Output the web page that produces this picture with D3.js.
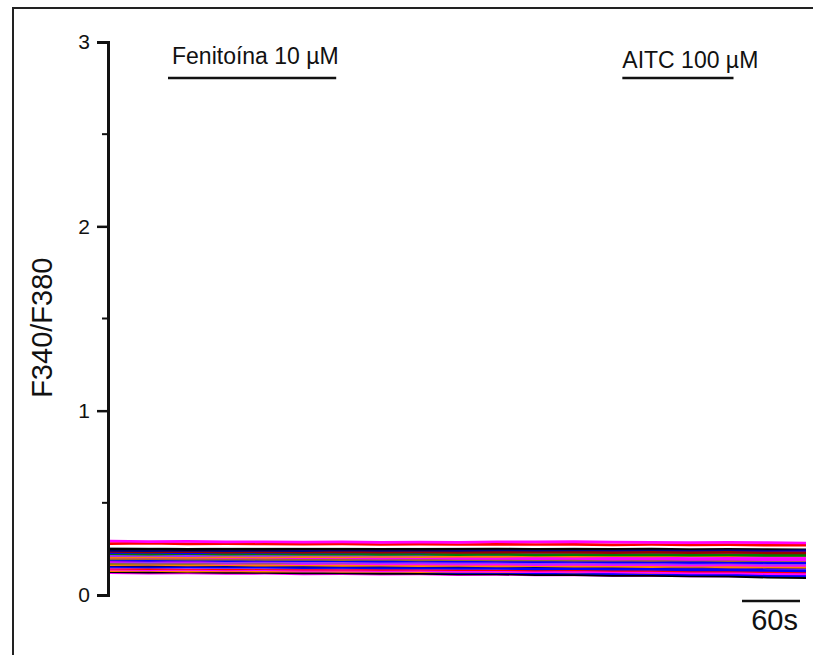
<!DOCTYPE html>
<html>
<head>
<meta charset="utf-8">
<script src="https://cdn.jsdelivr.net/npm/d3@7"></script>
<style>
  body { margin: 0; background: white; }
  text { font-family: "Liberation Sans", Arial, sans-serif; fill: #111; }
</style>
</head>
<body>
<div id="chart_div"></div>
<script>

// time points (s) of every trace
let times = [0, 40, 80, 120, 160, 200, 240, 280, 320, 360, 400, 440, 480, 520, 560, 600, 640, 680, 720]

// F340/F380 ratio of each cell
let tr01 = [0.293,0.290,0.291,0.288,0.289,0.287,0.288,0.285,0.287,0.286,0.289,0.288,0.290,0.287,0.286,0.284,0.285,0.284,0.282]
let tr02 = [0.279,0.281,0.277,0.278,0.277,0.276,0.277,0.274,0.276,0.274,0.275,0.274,0.275,0.272,0.274,0.272,0.273,0.270,0.271]
let tr03 = [0.266,0.264,0.266,0.264,0.265,0.264,0.264,0.262,0.264,0.263,0.264,0.262,0.263,0.262,0.263,0.261,0.262,0.261,0.260]
let tr04 = [0.250,0.252,0.248,0.250,0.249,0.251,0.250,0.252,0.249,0.251,0.253,0.251,0.252,0.251,0.254,0.252,0.254,0.252,0.255]
let tr05 = [0.242,0.240,0.243,0.241,0.242,0.241,0.244,0.242,0.243,0.242,0.245,0.243,0.245,0.244,0.246,0.244,0.246,0.245,0.247]
let tr06 = [0.236,0.234,0.236,0.233,0.235,0.232,0.235,0.233,0.234,0.231,0.233,0.232,0.233,0.230,0.232,0.230,0.231,0.229,0.229]
let tr07 = [0.230,0.232,0.229,0.232,0.231,0.233,0.232,0.235,0.233,0.236,0.234,0.237,0.236,0.238,0.237,0.239,0.238,0.241,0.241]
let tr08 = [0.224,0.222,0.224,0.222,0.223,0.221,0.223,0.220,0.221,0.219,0.221,0.218,0.219,0.217,0.219,0.216,0.217,0.215,0.215]
let tr09 = [0.213,0.215,0.213,0.216,0.215,0.217,0.216,0.218,0.217,0.220,0.219,0.221,0.220,0.222,0.221,0.224,0.222,0.225,0.225]
let tr10 = [0.205,0.207,0.205,0.207,0.206,0.209,0.207,0.211,0.208,0.211,0.210,0.213,0.211,0.213,0.212,0.215,0.213,0.216,0.215]
let tr11 = [0.207,0.205,0.206,0.203,0.204,0.202,0.203,0.200,0.202,0.198,0.199,0.197,0.198,0.195,0.197,0.193,0.194,0.192,0.191]
let tr12 = [0.196,0.197,0.194,0.196,0.193,0.195,0.192,0.194,0.191,0.193,0.190,0.192,0.189,0.191,0.188,0.190,0.187,0.188,0.186]
let tr13 = [0.190,0.188,0.190,0.187,0.188,0.186,0.187,0.184,0.185,0.183,0.183,0.181,0.182,0.179,0.181,0.177,0.178,0.176,0.175]
let tr14 = [0.184,0.186,0.184,0.187,0.186,0.189,0.187,0.190,0.188,0.191,0.190,0.193,0.191,0.194,0.193,0.196,0.195,0.198,0.198]
let tr15 = [0.180,0.178,0.180,0.177,0.179,0.176,0.177,0.175,0.176,0.174,0.175,0.172,0.174,0.171,0.172,0.170,0.171,0.168,0.169]
let tr16 = [0.171,0.173,0.172,0.175,0.174,0.177,0.176,0.179,0.178,0.181,0.180,0.183,0.183,0.185,0.185,0.188,0.188,0.192,0.193]
let tr17 = [0.175,0.173,0.174,0.172,0.173,0.170,0.171,0.169,0.169,0.167,0.168,0.165,0.166,0.164,0.164,0.162,0.163,0.160,0.160]
let tr18 = [0.165,0.166,0.163,0.164,0.162,0.163,0.161,0.162,0.159,0.160,0.158,0.159,0.156,0.157,0.154,0.156,0.152,0.153,0.151]
let tr19 = [0.160,0.158,0.160,0.158,0.159,0.157,0.158,0.156,0.157,0.155,0.156,0.154,0.155,0.153,0.154,0.151,0.153,0.150,0.150]
let tr20 = [0.155,0.153,0.154,0.152,0.152,0.149,0.150,0.147,0.149,0.145,0.146,0.142,0.143,0.140,0.140,0.136,0.136,0.133,0.131]
let tr21 = [0.150,0.151,0.148,0.150,0.147,0.149,0.146,0.148,0.145,0.147,0.144,0.146,0.143,0.144,0.142,0.143,0.140,0.142,0.140]
let tr22 = [0.145,0.143,0.145,0.142,0.143,0.140,0.142,0.139,0.140,0.137,0.138,0.135,0.137,0.133,0.134,0.130,0.131,0.126,0.125]
let tr23 = [0.140,0.138,0.139,0.136,0.138,0.134,0.135,0.132,0.133,0.130,0.131,0.127,0.128,0.125,0.124,0.120,0.121,0.116,0.115]
let tr24 = [0.132,0.133,0.130,0.132,0.129,0.131,0.128,0.130,0.127,0.129,0.126,0.128,0.125,0.126,0.123,0.124,0.121,0.122,0.120]
let tr25 = [0.136,0.134,0.135,0.132,0.133,0.130,0.130,0.127,0.127,0.123,0.124,0.120,0.120,0.116,0.116,0.112,0.112,0.107,0.105]
let tr26 = [0.126,0.124,0.125,0.122,0.123,0.120,0.120,0.117,0.117,0.114,0.115,0.111,0.111,0.107,0.107,0.103,0.102,0.097,0.094]
let tr27 = [0.121,0.119,0.120,0.117,0.118,0.115,0.116,0.113,0.114,0.111,0.112,0.109,0.110,0.106,0.107,0.104,0.104,0.100,0.099]
let tr28 = [0.198,0.200,0.198,0.201,0.200,0.202,0.201,0.204,0.203,0.205,0.204,0.206,0.205,0.208,0.206,0.209,0.208,0.210,0.210]

let traces = [tr28, tr27, tr26, tr25, tr24, tr23, tr22, tr21, tr20, tr19, tr18, tr17, tr16, tr15,
              tr14, tr13, tr12, tr11, tr10, tr09, tr08, tr07, tr06, tr05, tr04, tr03, tr02, tr01]
let trace_colors = ["#ff00ff", "#ff00ff", "#000000", "#0000ff", "#ff8000", "#ff00ff", "#ff0000", "#9933ff", "#0000ff", "#000080",
                    "#ff8000", "#ff00ff", "#808000", "#9933ff", "#ff00ff", "#0000ff", "#996633", "#ff00ff", "#ff8000", "#9933ff",
                    "#008000", "#0000ff", "#990000", "#000080", "#000000", "#ffffff", "#ff0000", "#ff00ff"]

// drug applications
let stim_labels = ["Fenitoína 10 µM", "AITC 100 µM"]
let stim_start = [60, 530]
let stim_end = [234, 645]

let y_ticks = [0, 1, 2, 3]
let y_minor = [0.5, 1.5, 2.5]
let y_label = "F340/F380"
let scale_bar = 60

let width = 813
let height = 655

window.onload = function(){
  draw()
}

function draw(){

  let svg = d3.select("#chart_div")
    .append("svg")
    .attr("width", width)
    .attr("height", height)

  // open frame (top and left)
  svg.append("path")
    .attr("d", "M13,655 L13,8 L813,8")
    .attr("fill", "none")
    .attr("stroke", "#222")
    .attr("stroke-width", 2)

  let x = d3.scaleLinear()
    .domain([0, 720])
    .range([110, 806])

  let y = d3.scaleLinear()
    .domain([0, 3])
    .range([595, 42])

  // Y axis
  let yAxis = svg.append("g")
    .attr("transform", "translate(108,0)")
    .call(d3.axisLeft(y).tickValues(y_ticks).tickSize(11).tickPadding(7).tickFormat(d3.format("d")))
  yAxis.select(".domain").attr("stroke", "#111").attr("stroke-width", 3)
  yAxis.selectAll(".tick line").attr("stroke", "#111").attr("stroke-width", 2.5)
  yAxis.selectAll(".tick text")
    .attr("font-family", "Liberation Sans, Arial, sans-serif")
    .attr("font-size", 21)
    .attr("fill", "#111")

  svg.append("g")
    .selectAll("line")
    .data(y_minor)
    .join("line")
      .attr("x1", 102)
      .attr("x2", 108)
      .attr("y1", d => y(d))
      .attr("y2", d => y(d))
      .attr("stroke", "#111")
      .attr("stroke-width", 2)

  svg.append("text")
    .attr("transform", "translate(52," + y(1.45) + ") rotate(-90)")
    .attr("text-anchor", "middle")
    .attr("font-size", 29)
    .text(y_label)

  // traces
  let line = d3.line()
    .x((d, i) => x(times[i]))
    .y(d => y(d))

  svg.append("g")
    .selectAll("path")
    .data(traces)
    .join("path")
      .attr("fill", "none")
      .attr("stroke", (d, i) => trace_colors[i])
      .attr("stroke-width", 2.7)
      .attr("d", line)

  // drug bars
  let stim = svg.append("g")
  stim.selectAll("line")
    .data(stim_labels)
    .join("line")
      .attr("x1", (d, i) => x(stim_start[i]))
      .attr("x2", (d, i) => x(stim_end[i]))
      .attr("y1", 78)
      .attr("y2", 78)
      .attr("stroke", "#111")
      .attr("stroke-width", 2.5)
  stim.selectAll("text")
    .data(stim_labels)
    .join("text")
      .attr("x", (d, i) => x(stim_start[i]) + (i == 0 ? 4 : 0))
      .attr("y", (d, i) => i == 0 ? 64 : 68)
      .attr("font-size", 23)
      .text(d => d)

  // time scale bar
  svg.append("line")
    .attr("x1", x(720) - (x(scale_bar) - x(0)) - 6)
    .attr("x2", x(720) - 6)
    .attr("y1", 601)
    .attr("y2", 601)
    .attr("stroke", "#111")
    .attr("stroke-width", 2.5)
  svg.append("text")
    .attr("x", 798)
    .attr("y", 630)
    .attr("text-anchor", "end")
    .attr("font-size", 29)
    .text(scale_bar + "s")
}

</script>
</body>
</html>
